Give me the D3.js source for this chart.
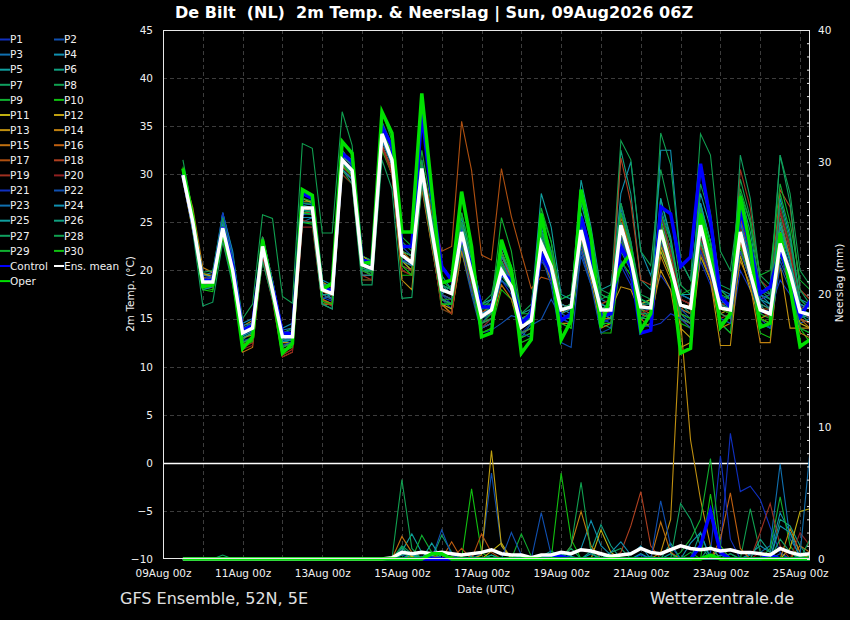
<!DOCTYPE html>
<html><head><meta charset="utf-8">
<script src="https://cdn.jsdelivr.net/npm/d3@7"></script>
<style>
body{margin:0;background:#000;}
svg{display:block;font-family:"DejaVu Sans",sans-serif;}
</style>
</head><body>
<svg id="c" width="850" height="620"></svg>
<script>
// ---------- DATA ----------
const firstValidUTC = [2026, 7, 9, 12];   // 09Aug2026 12Z, then every 6 h
const stepHours = 6;
const xTickLabels = ["09Aug 00z","11Aug 00z","13Aug 00z","15Aug 00z","17Aug 00z","19Aug 00z","21Aug 00z","23Aug 00z","25Aug 00z"];
const tempTicks = [-10,-5,0,5,10,15,20,25,30,35,40,45];
const precTicks = [0,10,20,30,40];
const memberNames = ["P1","P2","P3","P4","P5","P6","P7","P8","P9","P10","P11","P12","P13","P14","P15","P16","P17","P18","P19","P20","P21","P22","P23","P24","P25","P26","P27","P28","P29","P30"];
const memberColors = ["#1030c0","#1050b0","#1070b0","#1090b0","#10a0a0","#10a080","#10a060","#10a050","#10b030","#10c010",
                      "#c0b010","#c0a010","#c09010","#c08010","#c07010","#c06010","#b05010","#b04020","#a03020","#902020",
                      "#1030c0","#1050b0","#1070b0","#1090b0","#10a0a0","#10a080","#10a060","#10a050","#10b030","#10c010"];

// 2m temperature (°C)
const tempMean    = [29.9,25.0,18.8,18.8, 24.4,20.0,13.5,14.0, 22.5,17.9,13.1,13.1, 26.5,26.5,18.0,17.6, 31.5,30.4,20.6,20.2, 34.2,31.5,21.6,20.8, 30.6,24.2,18.0,17.6, 24.0,19.7,15.2,15.9, 20.0,18.3,14.1,14.8, 22.8,20.4,15.9,16.2, 24.2,20.0,15.9,15.9, 24.7,21.1,16.2,16.1, 24.2,20.4,16.4,16.1, 24.7,20.4,16.1,15.9, 24.0,19.7,15.9,15.5, 22.8,19.7,15.7,15.4];
const tempControl = [30.0,25.0,18.9,19.0, 24.5,20.5,13.8,14.3, 22.8,18.4,13.5,13.4, 28.0,27.5,18.1,17.9, 32.2,31.3,21.1,20.8, 35.0,32.9,22.5,22.5, 36.3,27.7,20.4,19.0, 23.5,20.4,16.2,16.2, 19.7,19.0,14.5,15.5, 21.8,19.7,14.8,15.5, 25.6,21.8,15.2,15.5, 22.5,20.4,13.5,13.8, 26.6,25.9,20.4,21.4, 31.1,25.2,17.3,16.2, 26.3,22.5,17.6,18.3, 22.1,19.0,15.2,16.8];
const tempOper    = [30.6,25.5,18.3,18.5, 24.2,19.5,11.9,13.1, 23.2,18.0,11.4,12.4, 28.4,27.8,18.0,18.7, 33.4,32.2,20.7,20.9, 36.5,34.3,24.0,24.0, 38.4,28.4,18.7,19.0, 28.2,22.5,13.1,13.5, 23.2,20.0,11.4,12.8, 25.9,20.7,12.8,14.8, 28.4,23.5,14.1,17.6, 20.4,21.8,13.8,15.5, 24.2,20.4,11.4,11.9, 25.9,21.8,14.1,15.5, 27.7,22.5,14.1,14.5, 23.9,18.3,12.1,12.8];
const tempP1  = [29.6,24.2,18.5,18.7, 25.5,20.8,13.2,14.1, 21.8,17.5,12.6,13.0, 25.8,25.9,17.2,16.8, 30.8,29.9,20.1,19.5, 33.5,31.0,22.0,21.5, 31.5,25.0,17.5,16.5, 22.5,18.5,14.5,15.8, 19.0,17.5,13.5,14.5, 21.0,19.5,15.0,14.5, 22.0,19.0,14.5,15.0, 20.5,18.5,15.0,16.5, 19.5,18.0,15.5,15.0, 21.0,18.5,14.5,13.5, 20.0,18.0,15.5,16.0, 19.0,17.5,15.0,14.5];
const tempP2  = [30.2,25.5,19.3,19.0, 25.8,21.5,14.0,14.5, 23.0,18.5,13.5,13.8, 27.0,26.8,18.5,18.0, 32.0,30.8,21.0,20.5, 35.0,32.5,22.5,21.5, 29.5,23.0,17.0,16.0, 22.0,17.5,13.5,13.8, 14.5,15.3,15.0,14.3, 14.9,17.0,15.0,14.5, 21.5,18.5,15.0,15.5, 23.5,20.0,15.5,15.0, 22.0,19.5,16.0,15.5, 25.0,21.5,17.0,17.5, 22.5,19.0,15.0,14.0, 21.0,18.5,14.5,15.0];
const tempP3  = [29.8,24.5,18.8,18.5, 26.0,21.8,12.5,13.0, 21.5,17.2,12.0,12.5, 25.0,25.5,17.0,17.5, 30.5,29.5,19.5,19.5, 33.0,30.5,20.5,20.0, 30.0,23.5,17.5,17.0, 23.0,19.0,14.0,15.0, 19.0,18.0,13.0,14.5, 22.0,19.0,15.0,15.5, 25.5,21.5,17.0,16.5, 25.0,22.0,16.5,17.0, 23.0,19.5,15.5,14.5, 23.5,20.0,16.5,17.5, 26.0,22.0,17.0,16.0, 22.0,19.0,15.0,15.5];
const tempP4  = [30.5,25.8,19.5,19.8, 26.0,22.0,14.5,15.0, 23.5,19.0,14.0,14.5, 27.5,27.0,19.0,18.5, 32.5,31.0,21.5,21.0, 34.5,32.0,22.0,21.5, 31.0,26.0,19.5,18.0, 25.0,21.0,16.0,17.0, 23.0,20.0,15.0,15.5, 25.0,22.0,17.0,17.5, 27.0,23.0,17.5,17.0, 28.0,31.3,22.0,19.5, 24.5,22.5,17.0,16.5, 26.5,23.0,18.0,17.0, 25.0,23.0,17.5,16.5, 24.0,21.0,16.5,16.0];
const tempP5  = [30.0,24.8,19.0,19.2, 24.8,20.5,13.0,13.5, 22.0,17.8,12.8,13.2, 26.0,26.2,18.0,17.0, 31.0,30.0,20.0,20.0, 33.8,31.2,21.0,20.5, 29.8,23.8,17.5,18.5, 25.5,21.0,16.5,17.0, 21.5,19.5,15.5,16.0, 28.0,24.5,17.5,17.0, 29.4,24.5,18.0,18.5, 26.0,22.5,17.0,16.5, 25.5,21.5,17.5,17.0, 27.0,23.0,17.5,16.0, 26.5,22.5,16.5,15.0, 24.5,21.0,15.5,15.0];
const tempP6  = [30.3,25.2,18.7,18.9, 24.0,19.5,13.8,14.2, 22.8,18.2,13.0,13.5, 26.8,26.5,18.2,17.8, 31.8,31.0,20.8,20.2, 34.2,31.8,21.0,21.0, 30.5,24.5,18.5,17.5, 24.5,20.0,15.0,16.5, 20.5,19.0,14.5,15.5, 23.5,20.5,16.0,16.5, 23.0,20.0,15.0,15.0, 32.5,28.0,19.0,18.0, 26.0,22.0,16.5,15.5, 23.0,20.5,16.0,16.5, 28.0,24.0,18.0,17.5, 26.0,22.5,17.0,16.0];
const tempP7  = [29.5,24.0,18.4,18.6, 24.2,19.8,12.8,13.6, 22.0,17.5,12.5,12.8, 25.5,25.5,17.5,17.0, 31.0,29.8,20.0,19.8, 33.5,31.0,21.0,20.0, 29.0,22.5,16.5,16.5, 23.5,19.0,14.0,14.5, 21.0,18.5,13.0,13.5, 24.0,21.0,15.5,15.0, 22.5,19.0,14.5,14.0, 22.0,20.0,15.0,15.0, 27.5,23.0,16.0,15.5, 22.5,19.5,14.5,15.5, 23.0,19.5,14.5,14.0, 25.5,21.5,15.5,14.5];
const tempP8  = [31.5,26.0,19.5,19.5, 25.5,21.5,15.0,16.5, 25.8,25.4,17.3,16.6, 33.2,32.7,23.9,23.9, 36.5,33.0,21.5,21.0, 35.0,32.5,23.0,22.0, 31.5,25.5,19.0,18.0, 26.0,21.5,16.5,17.5, 22.5,20.5,15.5,16.5, 25.5,22.0,16.5,16.0, 27.5,23.5,18.0,17.5, 33.5,31.5,22.0,20.5, 30.5,26.0,18.5,17.5, 29.0,25.5,18.5,18.0, 29.5,25.5,19.5,18.5, 32.0,28.0,20.0,18.5];
const tempP9  = [30.1,25.0,18.9,19.2, 24.6,20.2,13.4,14.0, 22.6,18.0,13.2,13.0, 26.3,26.0,17.8,17.5, 31.3,30.3,20.3,19.8, 34.0,31.5,21.5,21.0, 30.0,24.0,17.0,17.0, 23.0,18.5,14.5,15.5, 19.5,18.0,14.0,15.0, 26.0,23.0,16.5,16.0, 24.0,20.5,16.0,16.5, 26.0,22.0,16.0,15.0, 22.5,19.5,16.5,16.0, 30.5,26.0,18.0,17.0, 24.5,20.0,15.5,15.0, 28.0,24.0,17.0,16.0];
const tempP10 = [30.8,25.8,18.2,18.0, 23.5,19.0,12.0,12.8, 21.0,17.0,11.5,12.0, 25.0,24.8,16.5,16.5, 30.0,29.0,19.0,19.0, 32.5,30.0,19.5,19.5, 29.0,23.0,16.0,15.5, 22.0,18.0,13.5,14.0, 18.0,17.0,13.0,13.5, 21.5,19.0,14.5,14.0, 22.5,19.5,13.5,13.5, 21.0,19.5,14.0,14.5, 24.0,20.5,14.5,14.0, 21.5,19.0,14.5,13.5, 22.5,19.0,13.5,13.0, 21.5,19.0,14.0,12.5];
const tempP11 = [30.0,25.3,19.5,19.5, 24.0,20.0,14.0,14.3, 23.2,18.8,13.3,13.3, 27.5,27.0,18.5,18.5, 32.5,31.0,21.0,20.5, 34.0,31.5,21.0,20.0, 29.5,23.0,16.5,16.0, 24.5,20.0,15.5,16.5, 22.0,19.5,15.0,15.5, 23.0,20.0,15.5,16.5, 24.5,20.5,16.0,15.5, 24.0,21.0,16.5,17.0, 22.0,19.5,15.0,14.0, 23.0,19.5,15.5,16.0, 21.5,18.0,15.0,14.5, 22.5,19.5,14.5,14.0];
const tempP12 = [30.4,25.6,19.7,19.4, 25.0,20.8,14.2,14.8, 23.5,19.0,13.6,13.4, 27.2,27.2,18.8,18.2, 32.2,31.5,21.5,20.8, 34.5,32.0,22.0,21.5, 31.0,24.5,18.0,17.5, 24.5,20.5,15.5,15.5, 20.5,18.5,14.5,15.5, 22.5,20.0,16.5,16.0, 23.5,20.0,15.5,15.0, 24.0,20.5,15.5,15.0, 22.5,20.0,14.0,13.0, 25.0,21.0,16.0,15.5, 23.0,19.5,16.0,15.5, 23.0,20.0,16.0,16.5];
const tempP13 = [29.7,24.6,19.2,19.0, 25.2,21.0,13.6,14.0, 22.4,18.0,12.5,12.5, 26.0,26.0,17.0,16.5, 31.5,30.5,20.5,20.0, 33.0,30.5,19.0,18.0, 30.0,23.5,17.0,16.5, 23.5,19.5,15.5,16.5, 22.0,19.0,14.0,15.0, 24.0,21.5,16.5,16.0, 23.0,19.5,15.5,16.0, 18.3,18.0,15.5,15.0, 20.0,18.0,12.0,12.5, 21.5,19.0,12.2,12.2, 22.0,19.0,15.0,15.5, 20.5,14.0,14.0,14.0];
const tempP14 = [30.2,26.5,20.3,19.8, 24.3,20.3,13.0,13.3, 22.2,17.8,12.2,12.4, 26.5,26.5,17.5,17.0, 32.0,31.0,20.5,20.0, 34.5,32.5,22.0,21.0, 29.5,23.0,16.5,15.5, 22.5,18.5,14.5,15.0, 21.0,18.5,13.5,14.0, 22.0,19.5,14.5,14.5, 22.5,19.0,14.0,14.5, 23.0,20.0,15.0,14.0, 21.5,19.0,15.0,14.5, 22.0,19.0,14.0,14.5, 21.0,18.5,12.5,12.5, 22.0,18.0,13.5,13.0];
const tempP15 = [29.4,24.0,18.6,18.8, 24.5,20.0,11.5,12.0, 21.5,17.0,11.0,11.5, 25.0,25.0,16.5,16.5, 30.5,29.5,19.5,19.5, 33.0,30.0,20.0,19.5, 28.5,22.5,16.5,15.5, 22.0,18.0,14.0,14.5, 18.5,17.0,13.5,14.0, 21.5,19.0,15.0,15.5, 23.5,20.0,15.0,15.0, 25.0,21.5,16.0,15.5, 23.0,20.0,15.0,14.5, 24.0,21.0,15.5,15.0, 25.5,21.0,15.0,14.5, 24.0,20.0,15.0,14.0];
const tempP16 = [30.6,25.4,19.0,18.5, 23.8,19.7,12.3,12.7, 22.0,17.5,11.8,12.0, 25.5,25.5,17.0,16.5, 30.8,29.8,20.0,19.5, 33.5,31.0,21.0,20.5, 30.0,24.0,17.5,17.0, 25.0,20.5,15.5,16.0, 21.0,19.0,14.5,15.0, 23.0,20.5,16.0,16.5, 24.5,21.0,16.5,16.0, 25.5,22.0,16.5,16.0, 25.0,21.5,16.0,15.5, 26.0,22.0,16.5,16.0, 24.0,20.5,16.5,16.0, 25.0,21.5,15.0,14.5];
const tempP17 = [30.0,25.0,19.2,19.3, 24.8,20.3,13.8,14.3, 22.5,18.2,13.3,13.4, 26.5,26.2,17.8,17.4, 31.5,30.5,20.5,20.0, 33.8,31.0,21.0,20.5, 31.0,26.0,22.0,22.5, 35.5,30.4,21.6,21.1, 30.6,25.6,21.8,18.1, 19.3,19.0,15.5,16.0, 23.5,20.0,16.0,16.5, 24.0,20.5,16.5,16.0, 23.5,20.0,16.0,16.5, 24.5,21.0,16.0,15.5, 23.0,19.5,16.0,16.0, 22.5,19.0,15.5,15.5];
const tempP18 = [29.9,24.8,19.0,18.8, 24.0,19.5,12.5,13.0, 22.0,17.5,12.0,12.5, 26.0,26.0,17.5,17.5, 31.0,30.0,20.0,19.5, 33.5,31.0,21.5,21.0, 30.5,24.0,18.0,17.5, 24.5,20.0,15.5,16.5, 21.5,19.0,14.5,15.0, 23.0,20.5,16.0,15.5, 25.0,21.0,16.5,17.0, 31.7,27.0,19.0,18.5, 24.5,21.0,17.0,16.5, 24.0,21.0,16.5,16.5, 25.5,21.5,17.0,17.5, 28.4,26.6,18.0,17.0];
const tempP19 = [30.2,25.2,18.3,18.2, 23.5,19.2,12.0,12.5, 21.8,17.2,11.2,11.8, 25.2,25.0,16.8,16.3, 30.3,29.5,19.5,19.0, 33.0,30.5,20.5,20.0, 29.5,23.5,17.0,16.5, 23.5,19.0,14.5,15.0, 20.0,18.0,13.5,14.0, 22.5,19.5,15.0,15.0, 23.0,19.5,15.0,15.5, 24.0,20.5,15.5,15.0, 23.0,20.0,15.5,15.0, 22.5,19.5,15.0,15.5, 30.5,26.5,19.0,18.0, 26.0,22.0,16.0,15.0];
const tempP20 = [29.8,24.5,18.5,18.4, 23.0,19.0,11.8,12.2, 21.2,16.8,11.0,11.5, 24.5,24.5,16.5,16.0, 30.0,29.0,19.0,19.0, 32.8,30.0,20.0,19.5, 29.0,23.0,16.0,15.5, 23.0,18.5,14.0,15.0, 20.5,18.5,14.5,15.0, 23.5,20.5,16.0,16.5, 24.5,21.0,16.0,15.5, 23.5,20.5,15.5,16.0, 26.0,22.0,17.0,16.5, 23.5,20.5,16.0,15.5, 24.5,21.0,16.0,15.0, 26.5,22.5,16.5,16.0];
const tempP21 = [30.1,24.6,19.0,19.5, 26.0,21.5,13.5,13.8, 22.5,18.0,12.8,13.0, 26.5,26.5,18.0,18.0, 31.5,30.5,20.5,20.0, 34.0,31.5,21.0,21.0, 30.0,24.0,18.5,18.0, 23.5,19.5,15.5,16.0, 19.5,18.5,14.5,15.5, 22.0,19.5,15.5,15.0, 22.5,19.5,15.0,14.5, 21.0,19.0,14.2,14.2, 14.5,15.5,15.0,14.0, 22.0,19.5,16.0,16.5, 25.0,21.5,17.0,17.5, 23.0,20.0,16.5,15.0];
const tempP22 = [29.7,24.3,18.3,18.6, 25.0,21.0,12.7,13.0, 22.0,17.8,12.2,12.6, 25.8,26.0,17.5,17.0, 30.5,29.5,20.0,19.5, 33.5,31.0,21.5,20.5, 30.5,24.0,17.5,17.0, 22.5,18.0,14.0,14.5, 21.0,18.5,13.5,13.0, 21.5,18.5,12.5,12.0, 22.0,18.5,13.5,14.0, 23.5,20.0,15.0,15.5, 23.0,20.5,16.0,15.0, 24.0,20.5,15.0,14.5, 22.0,19.0,14.5,14.0, 20.5,18.0,14.0,13.5];
const tempP23 = [30.3,25.5,19.5,19.3, 25.3,21.2,14.3,14.5, 23.0,18.5,13.8,14.0, 27.0,26.8,18.5,18.5, 32.0,31.0,21.0,20.5, 34.5,32.0,21.5,21.0, 31.0,25.0,18.5,18.0, 24.5,20.0,15.5,16.0, 21.0,19.0,14.5,16.0, 24.0,21.0,16.5,16.0, 25.0,21.0,16.5,16.0, 26.5,22.5,17.0,16.5, 26.5,23.0,17.5,17.0, 25.5,22.0,17.0,16.5, 24.0,21.0,17.5,17.0, 23.5,20.5,16.0,15.5];
const tempP24 = [29.6,24.2,18.0,18.3, 24.8,20.5,13.2,13.7, 22.5,18.0,12.6,12.8, 25.5,25.5,16.5,16.0, 30.5,29.5,19.5,19.5, 33.5,31.0,21.0,20.5, 29.5,23.5,17.0,16.5, 24.0,19.5,15.5,16.0, 21.5,19.5,14.5,15.0, 24.5,21.0,16.0,15.5, 24.0,20.5,15.5,15.0, 22.5,20.0,16.0,16.0, 32.5,32.5,21.0,19.0, 27.0,23.0,17.0,16.0, 25.0,21.0,16.0,15.5, 27.5,23.5,17.0,16.5];
const tempP25 = [30.4,25.0,18.8,19.0, 24.2,20.0,13.4,14.0, 22.4,18.2,13.0,13.2, 26.2,26.2,18.0,17.8, 31.2,30.2,20.5,20.2, 34.0,31.5,21.5,21.0, 30.5,24.5,18.5,18.0, 25.0,20.5,16.0,16.5, 22.5,20.0,15.0,15.0, 22.5,20.0,15.5,16.0, 26.0,22.0,16.5,16.0, 27.0,23.0,17.0,16.5, 27.5,23.5,17.5,17.5, 28.0,24.5,18.0,17.5, 27.0,23.0,17.0,16.5, 25.0,21.0,16.5,16.0];
const tempP26 = [30.0,24.7,18.5,18.5, 24.4,19.8,13.0,13.5, 22.2,17.8,12.8,12.8, 26.0,25.8,17.5,17.5, 31.2,30.0,20.2,20.0, 34.0,31.5,21.5,21.0, 30.0,24.0,18.0,17.5, 24.0,19.5,15.0,15.5, 20.5,18.5,14.5,15.0, 23.5,20.5,16.0,16.5, 24.5,20.5,16.0,16.5, 25.0,21.5,16.5,16.5, 24.0,20.5,16.5,16.0, 25.5,21.5,16.5,16.0, 26.0,22.0,16.5,16.0, 24.5,21.0,16.0,15.5];
const tempP27 = [30.5,24.0,16.3,16.7, 23.0,18.5,12.5,13.0, 21.0,17.0,12.0,12.5, 25.0,25.0,16.5,16.0, 30.5,29.0,18.5,18.5, 31.5,28.5,17.1,17.2, 29.0,23.0,17.0,16.5, 23.5,19.0,14.5,15.0, 19.5,18.0,13.5,14.0, 22.5,20.0,15.0,15.0, 23.0,19.5,15.5,15.5, 24.0,20.5,15.5,15.5, 23.5,20.0,15.0,14.5, 23.0,20.0,15.5,15.0, 32.0,27.5,19.0,17.5, 32.0,27.0,18.0,16.5];
const tempP28 = [30.2,25.5,19.8,20.0, 25.5,21.0,14.0,14.5, 23.5,19.0,13.5,14.0, 27.0,27.0,18.5,18.0, 32.5,31.0,21.0,21.0, 35.5,33.0,22.0,21.5, 31.0,24.0,18.5,18.0, 25.0,20.5,16.0,16.0, 22.0,19.5,15.0,15.5, 24.0,21.0,16.0,16.5, 25.0,21.5,17.0,17.5, 27.0,23.0,17.5,17.0, 34.3,31.0,21.0,19.0, 34.2,32.0,22.0,20.0, 28.0,25.0,18.0,17.0, 27.0,23.0,17.0,16.0];
const tempP29 = [29.8,24.8,19.0,19.0, 24.6,20.2,13.6,14.2, 22.8,18.4,13.2,13.0, 27.5,27.2,18.2,17.8, 33.5,32.0,21.0,20.5, 36.5,33.5,23.5,22.5, 32.5,26.5,19.0,18.0, 26.0,21.5,16.5,16.5, 25.5,22.0,15.5,15.5, 26.5,23.0,17.0,17.5, 28.0,24.0,17.5,17.0, 26.0,22.5,17.0,16.5, 26.0,23.0,17.5,18.0, 26.5,23.0,17.5,17.0, 28.5,25.0,19.5,20.0, 29.0,25.0,19.0,18.0];
const tempP30 = [30.0,25.0,18.0,17.8, 24.0,19.5,12.2,12.6, 22.5,17.8,11.8,12.0, 26.0,25.8,16.8,16.5, 31.0,29.8,20.0,19.5, 35.0,32.0,20.5,19.5, 30.5,24.0,16.5,16.5, 23.0,19.0,13.5,14.0, 21.0,18.0,12.5,13.0, 25.0,21.5,14.5,14.0, 24.0,20.0,14.5,14.5, 23.0,20.0,15.0,15.5, 25.0,21.0,15.5,15.0, 24.5,21.0,16.0,15.5, 24.0,20.5,15.0,14.5, 23.0,19.5,14.0,13.5];

// 6-hourly precipitation (mm)
const precMean    = [0,0,0,0, 0,0,0,0, 0,0,0,0, 0,0,0,0, 0,0,0,0, 0,.1,.5,.4, .5,.4,.5,.4, .3,.4,.5,.7, .4,.3,.3,.1, .3,.3,.5,.4, .7,.6,.4,.2, .3,.4,.8,.5, .4,.7,1,.8, .7,.8,.6,.7, .5,.5,.4,.3, .8,.5,.3,.4];
const precControl = [0,0,0,0, 0,0,0,0, 0,0,0,0, 0,0,0,0, 0,0,0,0, 0,0,0,0, 0,0,0,0, 0,0,0,0, 0,0,0,0, 0,.3,.2,0, 0,0,0,0, 0,0,0,0, 0,0,0,0, 1,3.6,.5,0, 0,0,0,.3, 0,0,0,0];
const precOper    = [0,0,0,0, 0,0,0,0, 0,0,0,0, 0,0,0,0, 0,0,0,0, 0,0,0,0, 0,.4,.4,0, 0,0,0,0, 0,0,0,0, 0,0,0,0, 0,0,0,0, 0,0,0,0, 0,0,0,0, 0,.3,0,0, 0,0,0,0, 0,0,0,0];
const precP1  = [0,0,0,0, 0,0,0,0, 0,0,0,0, 0,0,0,0, 0,0,0,0, 0,0,0,0, 0,.2,0,0, 0,0,0,0, 0,0,0,0, 0,0,0,0, 0,0,0,0, 0,0,.3,0, 0,0,0,0, 0,0,.8,9.5, 5.1,5.5,4.5,2.4, .5,0,0,.3];
const precP2  = [0,0,0,0, 0,0,0,0, 0,0,0,0, 0,0,0,0, 0,0,0,0, 0,0,.3,0, 0,0,.5,0, 0,0,.4,6.5, 1,0,0,0, 0,0,0,0, 0,0,0,.2, 0,0,0,0, 0,0,0,0, 0,0,0,.4, 0,0,0,0, .4,0,0,0];
const precP3  = [0,0,0,0, 0,0,0,0, 0,0,0,0, 0,0,0,0, 0,0,0,0, 0,0,0,0, .2,0,0,0, 0,0,0,0, 0,0,.3,0, 0,0,0,0, 0,0,0,0, 0,0,0,.2, 0,0,0,0, 0,0,0,0, 0,.3,.5,1, 7.2,1.5,.3,0];
const precP4  = [0,0,0,0, 0,0,0,0, 0,0,0,0, 0,0,0,0, 0,0,0,0, 0,0,.5,.3, 0,0,0,0, 0,.2,0,0, 0,0,0,0, 0,0,0,.3, .8,2.9,1,.3, 0,0,.4,0, 0,0,0,0, 0,0,.3,0, 0,.4,1,.5, 3.5,2,.5,0];
const precP5  = [0,0,0,0, 0,0,0,0, 0,0,0,0, 0,0,0,0, 0,0,0,0, 0,0,.6,1.9, .5,0,0,0, 0,0,0,.3, 0,0,0,0, .2,.6,.2,0, 0,0,0,0, 0,0,0,0, 0,.4,0,0, 0,0,0,0, 0,0,0,.5, 0,0,0,0];
const precP6  = [0,0,0,0, 0,0,0,0, 0,0,0,0, 0,0,0,0, 0,0,0,0, 0,0,0,.4, 0,.3,0,0, 0,0,0,0, 0,0,.2,0, 0,.3,0,0, 0,.6,2.6,1, 0,0,0,0, 0,1.2,0,0, 2,0,0,0, 0,0,0,0, 3,2.5,1,0];
const precP7  = [0,0,0,0, 0,0,0,0, 0,0,0,0, 0,0,0,0, 0,0,0,0, 0,0,1,.4, 0,0,1.8,.5, 0,0,0,0, 0,0,0,0, 0,0,0,0, 0,0,0,.5, .8,0,0,0, 0,0,4.2,3, 1,0,0,0, 0,0,0,0, 0,0,0,0];
const precP8  = [0,0,0,0, 0,0,0,0, 0,0,0,0, 0,0,0,0, 0,0,0,0, 0,0,6,.8, 0,0,0,0, 0,0,0,0, 0,0,0,0, 0,0,.3,0, 0,0,0,0, 0,0,0,0, 0,0,0,0, 0,0,0,.4, 0,3.8,.5,0, 0,0,0,.5];
const precP9  = [0,0,0,0, 0,0,0,0, 0,0,0,0, 0,0,0,0, 0,0,0,0, 0,0,.5,0, 1.8,.5,0,0, 0,0,0,0, 0,0,1.9,.2, 0,0,0,0, 0,0,0,0, 0,0,0,0, 0,0,0,.5, 0,0,0,0, 0,0,0,.8, 4.7,1,0,0];
const precP10 = [0,0,0,0, 0,0,0,0, 0,0,0,0, 0,0,0,0, 0,0,0,0, 0,0,0,0, 0,0,0,.2, 0,5.3,.5,0, 0,0,0,0, 0,0,6.5,1.5, 0,0,0,0, 0,0,0,0, 0,0,0,0, 0,0,0,0, 0,0,0,0, 0,0,0,.3];
const precP11 = [0,0,0,0, 0,0,0,0, 0,0,0,0, 0,0,0,0, 0,0,0,0, 0,0,0,.2, 0,0,0,0, 0,0,0,.6, 1.2,0,0,0, 0,0,0,0, 0,0,2.2,.5, 0,0,0,0, 0,0,0,0, 0,0,0,0, 0,0,0,0, 0,.8,3.6,3.8];
const precP12 = [0,0,0,0, 0,0,0,0, 0,0,0,0, 0,0,0,0, 0,0,0,0, 0,0,0,0, 0,0,0,0, 0,0,.3,8.2, 1,0,0,0, 0,0,0,0, 0,0,0,0, 0,0,0,0, 0,0,0,0, 0,0,1,0, 0,0,0,0, 0,0,0,0];
const precP13 = [0,0,0,0, 0,0,0,0, 0,0,0,0, 0,0,0,0, 0,0,0,0, 0,0,0,0, 0,0,0,0, 0,0,0,0, 0,0,0,0, 0,0,0,0, 0,0,0,0, 0,0,0,0, .5,3,18,9, 4.5,1,0,0, 0,0,0,0, 0,0,0,0];
const precP14 = [0,0,0,0, 0,0,0,0, 0,0,0,0, 0,0,0,0, 0,0,0,0, 0,0,0,.3, 0,0,0,0, 0,0,0,0, 0,0,0,0, 0,0,0,1, 3.6,1,0,0, 0,0,0,0, 0,0,0,0, 0,0,0,0, 0,0,0,0, 0,2.3,.5,0];
const precP15 = [0,0,0,0, 0,0,0,0, 0,0,0,0, 0,0,0,0, 0,0,0,0, 0,0,1.7,.5, 0,0,0,0, 0,0,0,0, 0,0,0,0, 0,0,0,0, 0,0,0,0, 0,0,0,0, 2.8,.5,0,0, 0,0,0,0, 0,0,0,0, 0,0,1,.5];
const precP16 = [0,0,0,0, 0,0,0,0, 0,0,0,0, 0,0,0,0, 0,0,0,0, 0,0,0,0, 0,.3,0,1.3, 0,0,0,0, 0,0,0,0, 0,0,0,0, 0,0,0,0, 0,0,0,0, 0,0,0,0, 0,0,1.5,5, .8,0,0,0, 0,0,0,0];
const precP17 = [0,0,0,0, 0,0,0,0, 0,0,0,0, 0,0,0,0, 0,0,0,0, 0,0,0,0, 0,0,.5,0, .8,0,1.9,.5, 0,0,0,0, 0,0,0,0, 0,0,0,0, 0,0,0,0, 0,0,0,0, 0,0,0,0, 0,0,0,.5, 0,0,0,0];
const precP18 = [0,0,0,0, 0,0,0,0, 0,0,0,0, 0,0,0,0, 0,0,0,0, 0,0,0,0, 0,0,0,0, 0,0,0,0, 0,0,0,0, 0,0,0,0, 0,0,0,0, .5,2.5,5.1,1, 0,0,0,0, 0,0,0,0, 0,0,0,0, 0,0,0,0];
const precP19 = [0,0,0,0, 0,0,0,0, 0,0,0,0, 0,0,0,0, 0,0,0,0, 0,0,0,0, 0,0,0,0, 0,0,0,0, 0,0,0,0, 0,0,0,0, 0,0,0,0, 0,0,0,0, 0,0,0,0, 0,0,0,0, 0,0,2,4.2, 1,0,0,0];
const precP20 = [0,0,0,0, 0,0,0,0, 0,0,0,0, 0,0,0,0, 0,0,0,0, 0,0,0,0, 0,0,0,0, 0,0,0,0, 0,0,0,0, 0,0,0,0, 0,0,0,.2, 0,0,0,0, 0,0,0,0, 0,0,0,0, 0,0,.5,0, 0,0,2,1];
const precP21 = [0,0,0,0, 0,0,0,0, 0,0,0,0, 0,0,0,0, 0,0,0,0, 0,0,0,0, 0,0,0,0, 0,0,0,0, 0,0,0,0, 0,0,0,0, 0,0,0,0, 0,0,0,0, 0,0,0,0, 0,.5,7.8,1.5, 0,0,0,0, 0,0,0,0];
const precP22 = [0,0,0,0, 0,0,0,0, 0,0,0,0, 0,0,0,0, 0,0,0,0, 0,0,0,0, 0,0,2.2,.3, 0,0,0,0, 0,2,.3,0, 3.5,.3,0,0, 0,0,0,0, 0,0,0,0, 4.4,1,0,0, 0,0,0,0, 0,0,0,0, 0,0,0,0];
const precP23 = [0,0,0,0, 0,0,0,0, 0,0,0,0, 0,0,0,0, 0,0,0,0, 0,0,0,0, 0,0,0,0, 0,0,0,0, 0,0,0,0, 0,0,0,0, 0,0,.3,0, 0,0,0,0, 0,0,0,0, 0,0,0,0, 0,0,0,0, 0,0,.3,8.2];
const precP24 = [0,0,0,0, 0,0,0,0, 0,0,0,0, 0,0,0,0, 0,0,0,0, 0,0,0,.4, 0,0,.3,0, 0,0,0,0, 0,0,0,0, 0,0,.5,.2, 0,.4,0,.5, 1.3,.3,1,0, 0,0,0,1.2, 2,0,0,0, 0,0,0,0, 2.5,2,0,0];
const precP25 = [0,0,0,0, 0,0,0,0, 0,0,0,0, 0,0,0,0, 0,0,0,0, 0,0,.8,.3, 0,1.2,0,0, 0,0,0,0, 0,0,0,0, 0,0,.4,0, 0,0,0,0, 0,0,0,0, 0,0,0,0, 0,0,0,0, 0,0,0,0, 0,0,0,0];
const precP26 = [0,0,0,0, 0,0,0,0, 0,0,0,0, 0,0,0,0, 0,0,0,0, 0,0,.3,.5, 0,0,0,0, 0,0,0,.3, 0,0,0,0, 0,0,0,0, 0,0,0,0, 0,0,0,0, 0,0,0,0, 0,1,0,0, 0,0,1.5,.5, 0,0,0,0];
const precP27 = [0,0,0,0, .3,0,0,0, 0,0,0,0, 0,0,0,0, 0,0,0,0, 0,0,.9,0, 0,0,0,0, 0,0,0,0, 0,0,0,0, 0,0,0,.8, 0,0,0,0, 0,0,0,0, 0,0,0,0, 0,0,0,0, 0,0,0,0, 1.5,.5,0,0];
const precP28 = [0,0,0,0, 0,0,0,0, 0,0,0,0, 0,0,0,0, 0,0,0,0, 0,0,0,0, 0,0,0,0, 0,0,0,0, 0,0,0,0, 0,0,0,1, 5.8,.5,0,0, 0,0,0,0, 0,0,0,0, 0,0,0,0, 0,0,0,0, 0,0,0,1.5];
const precP29 = [0,0,0,0, 0,0,0,0, 0,0,0,0, 0,0,0,0, 0,0,0,0, 0,0,0,0, 0,0,0,0, 0,0,0,0, 0,0,0,0, 0,0,0,0, 0,0,0,0, 0,0,0,0, 0,0,.5,1.5, 3,7.6,1,0, 0,0,0,0, 0,0,0,0];
const precP30 = [0,0,0,0, 0,0,0,0, 0,0,0,0, 0,0,0,0, 0,0,0,0, 0,0,0,0, 0,0,0,0, 0,0,0,0, 0,0,0,0, 0,0,0,0, 0,0,0,0, 0,0,0,0, 0,0,0,0, 0,4.9,.5,0, 0,0,0,0, 0,0,0,0];

// ---------- BUILD ----------
const tempMembers = [tempP1,tempP2,tempP3,tempP4,tempP5,tempP6,tempP7,tempP8,tempP9,tempP10,tempP11,tempP12,tempP13,tempP14,tempP15,tempP16,tempP17,tempP18,tempP19,tempP20,tempP21,tempP22,tempP23,tempP24,tempP25,tempP26,tempP27,tempP28,tempP29,tempP30];
const precMembers = [precP1,precP2,precP3,precP4,precP5,precP6,precP7,precP8,precP9,precP10,precP11,precP12,precP13,precP14,precP15,precP16,precP17,precP18,precP19,precP20,precP21,precP22,precP23,precP24,precP25,precP26,precP27,precP28,precP29,precP30];

const W = 850, H = 620;
const L = 163, R = 810, T = 30, B = 559;
const svg = d3.select("#c");
svg.append("rect").attr("width", W).attr("height", H).attr("fill", "#000");

const t0 = Date.UTC(...firstValidUTC);
const times = tempMean.map((_, i) => new Date(t0 + i * stepHours * 3600e3));
const x = d3.scaleUtc().domain([new Date(Date.UTC(2026,7,9,0)), times[times.length-1]]).range([L, R]);
const yT = d3.scaleLinear().domain([tempTicks[0], tempTicks[tempTicks.length-1]]).range([B, T]);
const yP = d3.scaleLinear().domain([precTicks[0], precTicks[precTicks.length-1]]).range([B, T]);

// grid
const grid = svg.append("g").attr("stroke", "#3c3c3c").attr("stroke-width", 1).attr("stroke-dasharray", "4,3");
tempTicks.filter(v => v > -10 && v < 45 && v !== 0).forEach(v => {
  grid.append("line").attr("x1", L).attr("x2", R).attr("y1", Math.round(yT(v)) + .5).attr("y2", Math.round(yT(v)) + .5);
});
const days = d3.utcDay.range(new Date(Date.UTC(2026,7,10)), new Date(Date.UTC(2026,7,25,1)));
days.forEach(d => {
  const xx = Math.round(x(d)) + .5;
  grid.append("line").attr("x1", xx).attr("x2", xx).attr("y1", T).attr("y2", B);
});
// zero line
svg.append("line").attr("x1", L).attr("x2", R).attr("y1", Math.round(yT(0)) + .5).attr("y2", Math.round(yT(0)) + .5)
  .attr("stroke", "#fff").attr("stroke-width", 1.3);

// clip
svg.append("clipPath").attr("id", "clip").append("rect").attr("x", L).attr("y", T).attr("width", R - L).attr("height", B - T + 3);
const plot = svg.append("g").attr("clip-path", "url(#clip)").attr("fill", "none");

const lineT = d3.line().x((d, i) => x(times[i])).y(d => yT(d));
const lineP = d3.line().x((d, i) => x(times[i])).y(d => yP(d));

// precipitation
tempMembers.forEach((_, k) => {
  plot.append("path").attr("d", lineP(precMembers[k])).attr("stroke", memberColors[k]).attr("stroke-width", 1.1);
});
plot.append("path").attr("d", lineP(precControl)).attr("stroke", "#0000ff").attr("stroke-width", 3.5);
plot.append("path").attr("d", lineP(precMean)).attr("stroke", "#ffffff").attr("stroke-width", 3.5);
plot.append("path").attr("d", lineP(precOper)).attr("stroke", "#00e000").attr("stroke-width", 3.5);

// temperature
tempMembers.forEach((arr, k) => {
  plot.append("path").attr("d", lineT(arr)).attr("stroke", memberColors[k]).attr("stroke-width", 1.1);
});
plot.append("path").attr("d", lineT(tempControl)).attr("stroke", "#0000ff").attr("stroke-width", 3.5);
plot.append("path").attr("d", lineT(tempOper)).attr("stroke", "#00e000").attr("stroke-width", 3.5);
plot.append("path").attr("d", lineT(tempMean)).attr("stroke", "#ffffff").attr("stroke-width", 3.5);

// frame
svg.append("rect").attr("x", L + .5).attr("y", T + .5).attr("width", R - L - 1).attr("height", B - T - 1)
  .attr("fill", "none").attr("stroke", "#e8e8e8").attr("stroke-width", 1);

// axes
const fs = "10.5px";
const axL = svg.append("g").attr("transform", `translate(${L},0)`)
  .call(d3.axisLeft(yT).tickValues(tempTicks).tickSize(0).tickPadding(10));
const axRm = svg.append("g").attr("transform", `translate(${R},0)`)
  .call(d3.axisLeft(yP).tickValues(d3.range(0, 41, 1)).tickSize(3).tickFormat(""));
const axR = svg.append("g").attr("transform", `translate(${R},0)`)
  .call(d3.axisRight(yP).tickValues(precTicks).tickSize(0).tickPadding(8));
const xTickDates = xTickLabels.map((_, i) => new Date(Date.UTC(2026,7,9 + 2*i)));
const axB = svg.append("g").attr("transform", `translate(0,${B})`)
  .call(d3.axisBottom(x).tickValues(xTickDates).tickSize(0).tickPadding(10.5).tickFormat((d, i) => xTickLabels[i]));
[axL, axR, axB].forEach(a => {
  a.select(".domain").remove();
  a.selectAll("text").attr("fill", "#f0f0f0").style("font-size", fs).style("font-family", "DejaVu Sans");
});
axRm.select(".domain").remove();
axRm.selectAll("line").attr("stroke", "#e8e8e8");

// axis titles
svg.append("text").attr("transform", `translate(134,294) rotate(-90)`).attr("text-anchor", "middle")
  .attr("fill", "#f0f0f0").style("font-size", fs).text("2m Temp. (°C)");
svg.append("text").attr("transform", `translate(843,283) rotate(-90)`).attr("text-anchor", "middle")
  .attr("fill", "#f0f0f0").style("font-size", fs).text("Neerslag (mm)");
svg.append("text").attr("x", 486).attr("y", 593).attr("text-anchor", "middle")
  .attr("fill", "#f0f0f0").style("font-size", fs).text("Date (UTC)");

// title & footer
svg.append("text").attr("x", 434).attr("y", 18).attr("text-anchor", "middle").attr("fill", "#fff")
  .attr("xml:space","preserve").style("white-space","pre")
  .style("font-size", "16px").style("font-weight", "bold").text("De Bilt  (NL)  2m Temp. & Neerslag | Sun, 09Aug2026 06Z");
svg.append("text").attr("x", 120).attr("y", 604).attr("fill", "#e0e0e0").style("font-size", "16px").text("GFS Ensemble, 52N, 5E");
svg.append("text").attr("x", 794).attr("y", 604).attr("text-anchor", "end").attr("fill", "#e0e0e0").style("font-size", "16px").text("Wetterzentrale.de");

// legend
const legend = svg.append("g").style("font-size", fs);
const legendItems = memberNames.map((n, k) => ({name: n, color: memberColors[k]}))
  .concat([{name: "Control", color: "#0000ff"}, {name: "Ens. mean", color: "#ffffff"}, {name: "Oper", color: "#00e000"}]);
legendItems.forEach((it, k) => {
  const col = k % 2, row = Math.floor(k / 2);
  const lx = col === 0 ? 0 : 54;
  const ly = 39.5 + row * 15.1;
  legend.append("line").attr("x1", lx).attr("x2", lx + 10).attr("y1", ly).attr("y2", ly).attr("stroke", it.color).attr("stroke-width", 2);
  legend.append("text").attr("x", lx + 10).attr("y", ly).attr("dy", "0.36em").attr("fill", "#f0f0f0").text(it.name);
});
</script>
</body></html>
